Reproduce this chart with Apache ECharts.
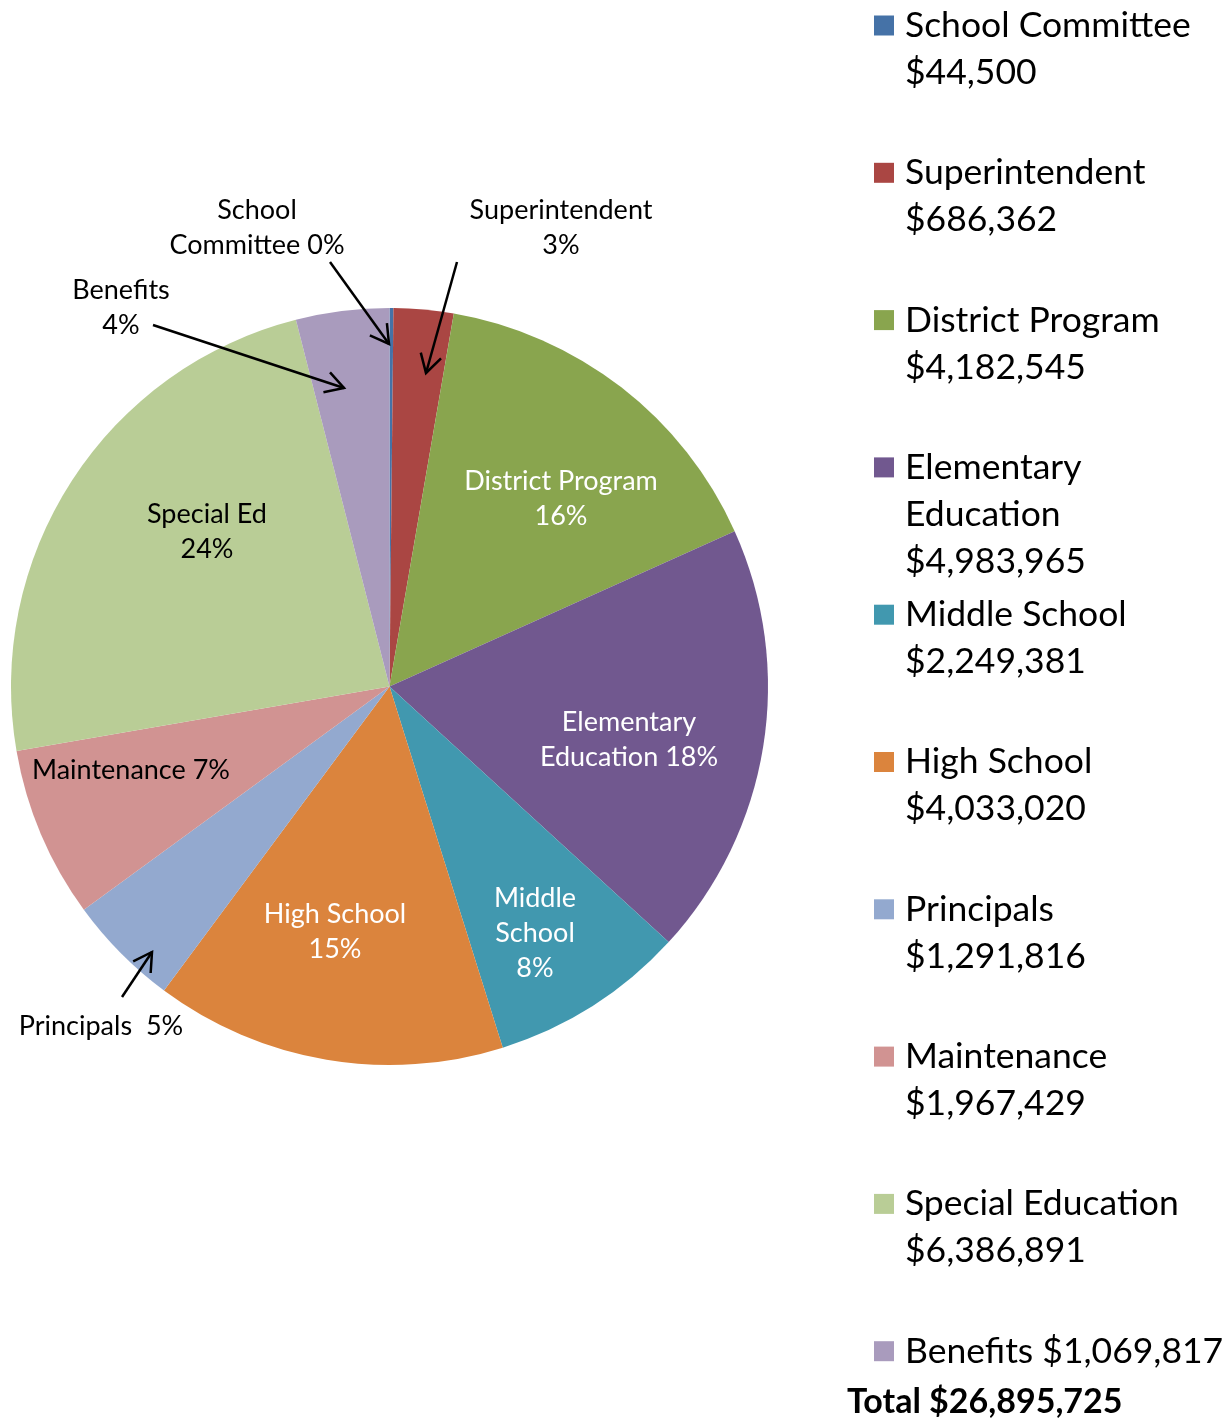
<!DOCTYPE html>
<html><head><meta charset="utf-8">
<script src="https://cdn.jsdelivr.net/npm/echarts@6/dist/echarts.min.js"></script>
<style>html,body{margin:0;padding:0;background:#fff}#c{width:1231px;height:1418px}</style>
</head><body><div id="c"></div>
<script>
// ---- data ----
const categories = ['School Committee','Superintendent','District Program','Elementary Education','Middle School','High School','Principals','Maintenance','Special Education','Benefits'];
const values = [44500, 686362, 4182545, 4983965, 2249381, 4033020, 1291816, 1967429, 6386891, 1069817];
const colors = ['#4572A7','#AA4643','#89A54E','#71588F','#4198AF','#DB843D','#93A9CF','#D19392','#B9CD96','#A99BBD'];
const legendTitles = ['School Committee','Superintendent','District Program','Elementary\nEducation','Middle School','High School','Principals','Maintenance','Special Education','Benefits'];
const legendSeps = ['\n','\n','\n','\n','\n','\n','\n','\n','\n',' '];
const pieLabels = ['School\nCommittee 0%','Superintendent\n3%','District Program\n16%','Elementary\nEducation 18%','Middle\nSchool\n8%','High School\n15%','Principals  5%','Maintenance 7%','Special Ed\n24%','Benefits\n4%'];
const totalLabel = 'Total $26,895,725';

// ---- layout / style ----
const FONT = 'Lato';
const CX = 389.5, CY = 686.5, R = 378.5;
const labelPos = [[257,228],[561,228],[561,499],[629,740],[535,933],[335,932],[101,1026],[131,770],[207,532],[121,308]];
const labelWhite = [false,false,true,true,true,true,false,false,false,false];
const arrows = [ // [tailX, tailY, tipX, tipY]
  [330,262,389,344],[457,262,426,373],[153,325,344,388],[122,997,152,952]
];
const LH = 47;

function fmt(v){ return '$' + v.toString().replace(/\B(?=(\d{3})+(?!\d))/g, ','); }

const legends = categories.map((name, i) => {
  const text = legendTitles[i] + legendSeps[i] + fmt(values[i]);
  const n = text.split('\n').length;
  const shown = '\n'.repeat(n - 1) + text;   // leading blank lines put the first line beside the icon
  const c = 25.5 + 147.3 * i;
  return {
    data: [name], orient: 'vertical', left: 874, top: c - (2*n - 1) * LH / 2,
    padding: 0, itemWidth: 20, itemHeight: 20, icon: 'rect', selectedMode: false,
    formatter: () => shown,
    textStyle: { fontFamily: FONT, fontSize: 35.5, lineHeight: LH, color: '#000', padding: [0, 0, 0, 6] }
  };
});

function arrowGraphic(a){
  const [x1,y1,x2,y2] = a;
  const ang = Math.atan2(y2-y1, x2-x1);
  const L = 21, sp = Math.PI/6;
  const p1 = [x2 - L*Math.cos(ang - sp), y2 - L*Math.sin(ang - sp)];
  const p2 = [x2 - L*Math.cos(ang + sp), y2 - L*Math.sin(ang + sp)];
  return [
    { type:'line', shape:{x1,y1,x2,y2}, style:{stroke:'#000', lineWidth:2.5}, z:10 },
    { type:'polyline', shape:{points:[p1,[x2,y2],p2]}, style:{stroke:'#000', lineWidth:2.5, fill:null}, z:10 }
  ];
}

const chart = echarts.init(document.getElementById('c'), null, {renderer:'canvas'});
chart.setOption({
  animation: false,
  backgroundColor: '#fff',
  legend: legends,
  series: [{
    type: 'pie', center: [CX, CY], radius: R, startAngle: 90, clockwise: true,
    avoidLabelOverlap: false, silent: true,
    data: categories.map((name, i) => ({
      name, value: values[i],
      itemStyle: { color: colors[i] },
      label: { color: labelWhite[i] ? '#fff' : '#000' }
    })),
    label: {
      show: true, position: 'inside', fontFamily: FONT, fontSize: 27, lineHeight: 35,
      align: 'center', formatter: p => pieLabels[p.dataIndex]
    },
    labelLine: { show: false },
    labelLayout: p => ({ x: labelPos[p.dataIndex][0], y: labelPos[p.dataIndex][1], align: 'center', verticalAlign: 'middle' })
  }],
  graphic: [].concat(...arrows.map(arrowGraphic), [{
    type: 'text', left: 847, top: 1385,
    style: { text: totalLabel, fontFamily: FONT, fontSize: 34, fontWeight: 'bold', fill: '#000' }
  }])
});
</script></body></html>
